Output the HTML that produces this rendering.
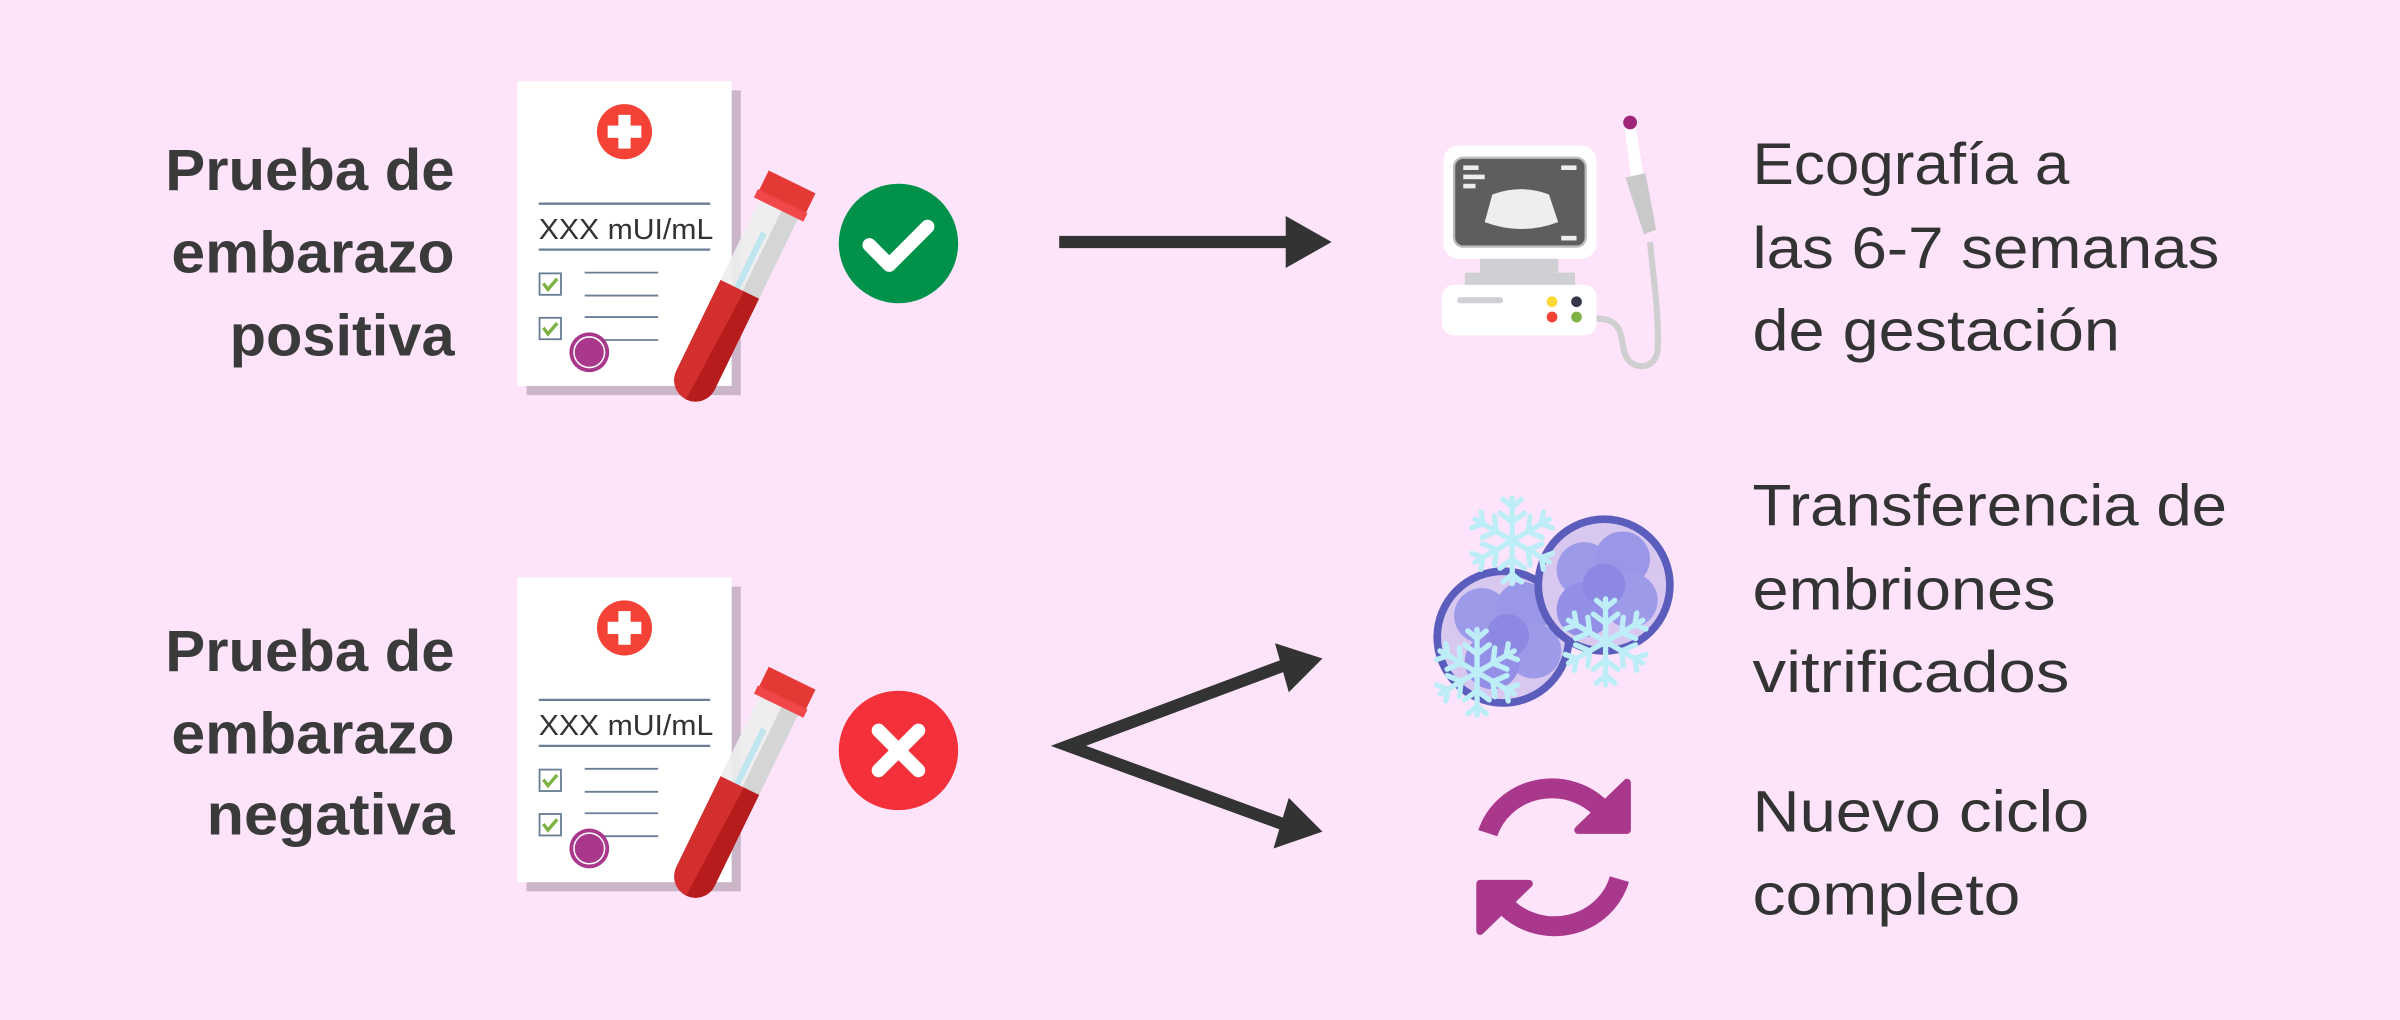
<!DOCTYPE html>
<html><head><meta charset="utf-8"><style>
html,body{margin:0;padding:0;background:#fde4fa}
svg{display:block}
</style></head><body>
<svg width="2400" height="1020" viewBox="0 0 1568 666" preserveAspectRatio="none" xmlns="http://www.w3.org/2000/svg">
<defs>
<g id="doc">
  <rect x="344" y="59" width="140" height="199" fill="#cbb6c9"/>
  <rect x="338" y="53" width="140" height="199" fill="#fff"/>
  <circle cx="408" cy="86" r="18" fill="#f44336"/>
  <rect x="404" y="75" width="8" height="22" fill="#fff"/>
  <rect x="397" y="82" width="22" height="8" fill="#fff"/>
  <line x1="352" y1="133" x2="464" y2="133" stroke="#6a7f96" stroke-width="1.5"/>
  <text x="352" y="156" font-family="Liberation Sans, sans-serif" font-size="19" fill="#333" textLength="114" lengthAdjust="spacingAndGlyphs">XXX mUI/mL</text>
  <line x1="352" y1="163" x2="464" y2="163" stroke="#6a7f96" stroke-width="1.5"/>
  <rect x="352.5" y="178.5" width="14" height="14" fill="none" stroke="#6a7f96" stroke-width="1.2"/>
  <path d="M355 185 l3 4 l6 -7" fill="none" stroke="#7cb342" stroke-width="2.2"/>
  <rect x="352.5" y="207.5" width="14" height="14" fill="none" stroke="#6a7f96" stroke-width="1.2"/>
  <path d="M355 214 l3 4 l6 -7" fill="none" stroke="#7cb342" stroke-width="2.2"/>
  <line x1="382" y1="178" x2="430" y2="178" stroke="#6a7f96" stroke-width="1.2"/>
  <line x1="382" y1="193" x2="430" y2="193" stroke="#6a7f96" stroke-width="1.2"/>
  <line x1="382" y1="207" x2="430" y2="207" stroke="#6a7f96" stroke-width="1.2"/>
  <line x1="382" y1="222" x2="430" y2="222" stroke="#6a7f96" stroke-width="1.2"/>
  <circle cx="385" cy="230" r="13" fill="#a9378b"/>
  <circle cx="385" cy="230" r="10" fill="none" stroke="#fff" stroke-width="1"/>
  <g transform="translate(514,126) rotate(26)">
    <rect x="-14" y="10" width="28" height="70" fill="#eeeeee" opacity="0.92"/>
    <rect x="2" y="10" width="12" height="70" fill="#d3d3d3" opacity="0.92"/>
    <rect x="-4" y="30" width="4" height="50" fill="#bfe6ef"/>
    <path d="M-14 70 L14 70 L14 136 A14 14 0 0 1 -14 136 Z" fill="#d32f2f"/>
    <path d="M3 70 L14 70 L14 136 A14 14 0 0 1 0 150 Z" fill="#b71c1c"/>
    <rect x="-17" y="-8" width="34" height="16" fill="#e53935"/>
    <rect x="-18" y="6" width="36" height="6" fill="#f0474a"/>
  </g>
</g>
<g id="flake" stroke="#bdeef8" stroke-width="3.5" stroke-linecap="round" fill="none">
  <g id="arm"><line x1="0" y1="0" x2="0" y2="-28"/><path d="M-8 -18 L0 -12 L8 -18 M-6 -27 L0 -22 L6 -27"/></g>
  <use href="#arm" transform="rotate(60)"/><use href="#arm" transform="rotate(120)"/>
  <use href="#arm" transform="rotate(180)"/><use href="#arm" transform="rotate(240)"/><use href="#arm" transform="rotate(300)"/>
</g>
</defs>
<rect width="1568" height="666" fill="#fde4fa"/>

<g font-family="Liberation Sans, sans-serif" font-weight="bold" font-size="38" fill="#3a3a3a" text-anchor="end">
  <text x="297" y="124" textLength="189" lengthAdjust="spacingAndGlyphs">Prueba de</text>
  <text x="297" y="178" textLength="185" lengthAdjust="spacingAndGlyphs">embarazo</text>
  <text x="297" y="232" textLength="147" lengthAdjust="spacingAndGlyphs">positiva</text>
  <text x="297" y="438" textLength="189" lengthAdjust="spacingAndGlyphs">Prueba de</text>
  <text x="297" y="492" textLength="185" lengthAdjust="spacingAndGlyphs">embarazo</text>
  <text x="297" y="545" textLength="162" lengthAdjust="spacingAndGlyphs">negativa</text>
</g>

<use href="#doc"/>
<use href="#doc" transform="translate(0,324)"/>

<circle cx="587" cy="159" r="39" fill="#00914a"/>
<path d="M568 160 L581 173 L606 148" fill="none" stroke="#fff" stroke-width="9" stroke-linecap="round" stroke-linejoin="round"/>
<circle cx="587" cy="490" r="39" fill="#f4303a"/>
<path d="M574 477 L600 503 M600 477 L574 503" fill="none" stroke="#fff" stroke-width="9" stroke-linecap="round"/>

<g stroke="#333" stroke-width="8" fill="#333">
  <line x1="692" y1="158" x2="845" y2="158"/>
  <polygon points="840,141 870,158 840,175" stroke="none"/>
  <path d="M840 434 L698 487 L838 538" fill="none" stroke-linejoin="miter"/>
  <polygon points="833,420 864,430 842,452" stroke="none"/>
  <polygon points="842,521 864,543 832,554" stroke="none"/>
</g>

<!-- ultrasound -->
<g>
  <path d="M1043 208 C1062 208 1058 222 1062 232 C1066 242 1082 242 1083 228 C1084 205 1080 180 1078 158" fill="none" stroke="#cfcfcf" stroke-width="4"/>
  <rect x="943" y="95" width="100" height="74" rx="10" fill="#fff"/>
  <rect x="950" y="103" width="86" height="58" rx="6" fill="#5e5e5e" stroke="#bbb" stroke-width="1.5"/>
  <path d="M975 127 Q994 120 1012 127 L1018 145 Q994 154 970 145 Z" fill="#eee"/>
  <rect x="956" y="108" width="10" height="3" fill="#eee"/><rect x="956" y="114" width="14" height="3" fill="#eee"/><rect x="956" y="120" width="8" height="3" fill="#eee"/>
  <rect x="1020" y="108" width="10" height="3" fill="#eee"/><rect x="1020" y="154" width="10" height="3" fill="#eee"/>
  <rect x="967" y="169" width="51" height="9" fill="#d0d0d4"/>
  <rect x="957" y="178" width="72" height="10" fill="#d0d0d4"/>
  <rect x="942" y="186" width="101" height="33" rx="8" fill="#fff"/>
  <rect x="952" y="194" width="30" height="4" rx="2" fill="#d0d0d4"/>
  <circle cx="1014" cy="197" r="3.5" fill="#fdd835"/><circle cx="1030" cy="197" r="3.5" fill="#37374a"/>
  <circle cx="1014" cy="207" r="3.5" fill="#f44336"/><circle cx="1030" cy="207" r="3.5" fill="#7cb342"/>
  <path d="M1061 80 L1068 79 L1074 116 L1066 118 Z" fill="#fff"/>
  <path d="M1062 116 L1075 113 L1082 150 L1074 153 Z" fill="#c9c9c9"/>
  <circle cx="1065" cy="80" r="4.5" fill="#a0267c"/>
</g>

<!-- embryos -->
<g>
  <circle cx="982" cy="416" r="43" fill="#d8c8f0" stroke="#5a5dbc" stroke-width="5"/>
  <circle cx="968" cy="402" r="18" fill="#9e9aea"/><circle cx="995" cy="398" r="18" fill="#9a96e8"/>
  <circle cx="1002" cy="425" r="18" fill="#9e9aea"/><circle cx="975" cy="432" r="18" fill="#938fe6"/>
  <circle cx="985" cy="415" r="14" fill="#8d89e2"/>
  <circle cx="1048" cy="382" r="43" fill="#d8c8f0" stroke="#5a5dbc" stroke-width="5"/>
  <circle cx="1035" cy="372" r="18" fill="#9e9aea"/><circle cx="1060" cy="365" r="18" fill="#9a96e8"/>
  <circle cx="1065" cy="392" r="18" fill="#9e9aea"/><circle cx="1035" cy="398" r="18" fill="#938fe6"/>
  <circle cx="1048" cy="382" r="14" fill="#8d89e2"/>
  <use href="#flake" transform="translate(988,353)"/>
  <use href="#flake" transform="translate(965,439)"/>
  <use href="#flake" transform="translate(1049,419)"/>
</g>

<!-- refresh -->
<g fill="none" stroke="#a9378b" stroke-width="13">
  <path d="M972 544 A44 42 0 0 1 1046 528"/>
  <path d="M1058 574 A44 42 0 0 1 984 592"/>
</g>
<g fill="#a9378b" stroke="#a9378b" stroke-width="5" stroke-linejoin="round">
  <path d="M1063 511 L1063 542 L1031 542 Z"/>
  <path d="M967 608 L967 577 L999 577 Z"/>
</g>

<g font-family="Liberation Sans, sans-serif" font-size="38" fill="#333">
  <text x="1145" y="120" textLength="207" lengthAdjust="spacingAndGlyphs">Ecografía a</text>
  <text x="1145" y="175" textLength="305" lengthAdjust="spacingAndGlyphs">las 6-7 semanas</text>
  <text x="1145" y="229" textLength="240" lengthAdjust="spacingAndGlyphs">de gestación</text>
  <text x="1145" y="343" textLength="310" lengthAdjust="spacingAndGlyphs">Transferencia de</text>
  <text x="1145" y="398" textLength="198" lengthAdjust="spacingAndGlyphs">embriones</text>
  <text x="1145" y="452" textLength="207" lengthAdjust="spacingAndGlyphs">vitrificados</text>
  <text x="1145" y="543" textLength="220" lengthAdjust="spacingAndGlyphs">Nuevo ciclo</text>
  <text x="1145" y="597" textLength="175" lengthAdjust="spacingAndGlyphs">completo</text>
</g>
</svg>
</body></html>
